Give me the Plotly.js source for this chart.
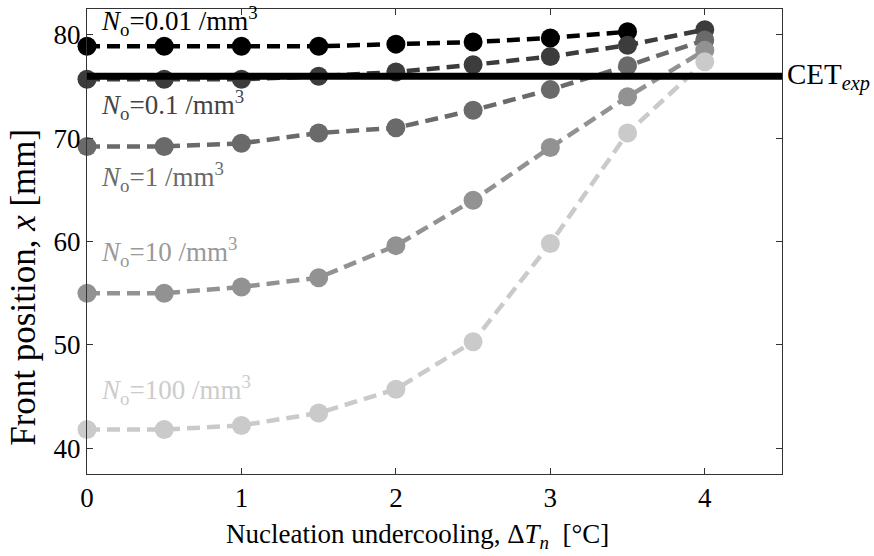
<!DOCTYPE html>
<html>
<head>
<meta charset="utf-8">
<script src="https://cdn.plot.ly/plotly-3.0.1.min.js"></script>
<style>html,body{margin:0;padding:0;background:#fff;}#chart{width:874px;height:556px;}</style>
</head>
<body>
<div id="chart"></div>
<script>
// Data
const undercooling = [0, 0.5, 1, 1.5, 2, 2.5, 3, 3.5, 4];
const front_N001 = [78.9, 78.9, 78.9, 78.9, 79.1, 79.3, 79.7, 80.3];
const front_N01  = [75.7, 75.7, 75.7, 76.0, 76.4, 77.1, 77.9, 79.0, 80.5];
const front_N1   = [69.2, 69.2, 69.5, 70.5, 71.0, 72.7, 74.7, 77.0, 79.5];
const front_N10  = [55.0, 55.0, 55.6, 56.5, 59.6, 64.0, 69.1, 74.0, 78.5];
const front_N100 = [41.8, 41.8, 42.2, 43.4, 45.7, 50.3, 59.8, 70.5, 77.4];
const cetX = [0, 4.5];
const cetY = [76.0, 76.0];
const seriesLabels = ["0.01", "0.1", "1", "10", "100"];
const labelY = [81.3, 73.2, 66.2, 59.0, 45.6];
const xTicks = [0, 1, 2, 3, 4];
const yTicks = [40, 50, 60, 70, 80];

const colors = ["#000000", "#3c3c3c", "#6a6a6a", "#929292", "#cacaca"];
const labelColors = ["#000000", "#444444", "#6a6a6a", "#999999", "#cccccc"];
const allSeries = [front_N001, front_N01, front_N1, front_N10, front_N100];

const traces = allSeries.map((ys, i) => ({
  x: undercooling.slice(0, ys.length),
  y: ys,
  type: 'scatter',
  mode: 'lines+markers',
  line: {color: colors[i], width: 4.5, dash: '13px,7px'},
  marker: {color: colors[i], size: 19, symbol: 'circle', line: {width: 0}},
  cliponaxis: false,
  hoverinfo: 'skip'
}));
traces.push({
  x: cetX, y: cetY, type: 'scatter', mode: 'lines',
  line: {color: '#000000', width: 7},
  cliponaxis: false, hoverinfo: 'skip'
});

const font = "Liberation Serif, Times New Roman, serif";
const annotations = seriesLabels.map((lab, i) => ({
  x: 0.08, y: labelY[i], xref: 'x', yref: 'y', xanchor: 'left', yanchor: 'middle',
  text: '<i>N</i><sub>o</sub>=' + lab + ' /mm<sup>3</sup>',
  showarrow: false, font: {family: font, size: 27, color: labelColors[i]}
}));
annotations.push({
  x: 4.5, y: 76.0, xref: 'x', yref: 'y', xanchor: 'left', yanchor: 'middle', xshift: 3,
  text: 'CET<sub><i>exp</i></sub>', showarrow: false,
  font: {family: font, size: 29, color: '#000000'}
});
// axis titles (placed as in the reference)
annotations.push({
  x: 0.476, y: 0, xref: 'paper', yref: 'paper', xanchor: 'center', yanchor: 'top', yshift: -43,
  text: 'Nucleation undercooling, Δ<i>T</i><sub><i>n</i></sub>  [°C]', showarrow: false,
  font: {family: font, size: 27, color: '#000000'}
});
annotations.push({
  x: -0.0906, y: 0.4006, xref: 'paper', yref: 'paper', xanchor: 'center', yanchor: 'middle',
  textangle: -90,
  text: 'Front position, <i>x</i> [mm]', showarrow: false,
  font: {family: font, size: 35, color: '#000000'}
});

const layout = {
  width: 874, height: 556,
  margin: {l: 87, r: 92, t: 9, b: 82, pad: 0},
  paper_bgcolor: '#ffffff', plot_bgcolor: '#ffffff',
  showlegend: false,
  font: {family: font, size: 20, color: '#000000'},
  xaxis: {
    range: [0, 4.5], tickvals: xTicks, ticktext: xTicks.map(String),
    ticks: 'inside', ticklen: 6, tickcolor: '#333', tickwidth: 1,
    showline: true, linecolor: '#333', linewidth: 1, mirror: 'ticks',
    showgrid: false, zeroline: false,
    tickfont: {family: font, size: 27, color: '#000'}
  },
  yaxis: {
    range: [37.5, 82.5], tickvals: yTicks, ticktext: yTicks.map(String),
    ticks: 'inside', ticklen: 6, tickcolor: '#333', tickwidth: 1,
    showline: true, linecolor: '#333', linewidth: 1, mirror: 'ticks',
    showgrid: false, zeroline: false,
    tickfont: {family: font, size: 27, color: '#000'}
  },
  annotations: annotations
};

Plotly.newPlot('chart', traces, layout, {staticPlot: true, displayModeBar: false});
</script>
</body>
</html>
